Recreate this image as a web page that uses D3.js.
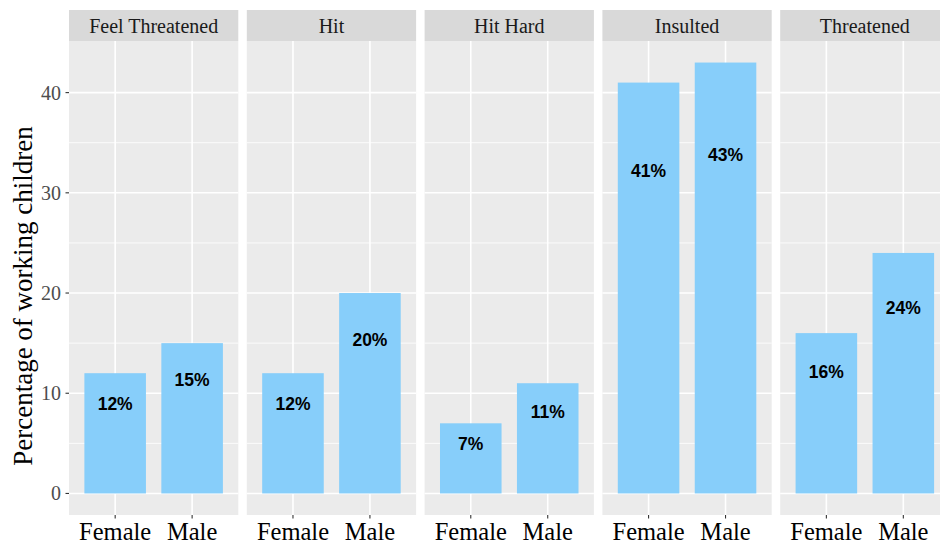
<!DOCTYPE html>
<html>
<head>
<meta charset="utf-8">
<script src="https://cdn.jsdelivr.net/npm/d3@7"></script>
<style>
html,body{margin:0;padding:0;background:#fff;overflow:hidden;}
</style>
</head>
<body>
<svg id="chart" width="940" height="545"></svg>
<script>
const facets = ["Feel Threatened", "Hit", "Hit Hard", "Insulted", "Threatened"];
const genders = ["Female", "Male"];
const femaleValues = [12, 12, 7, 41, 16];
const maleValues = [15, 20, 11, 43, 24];
const yTicks = [0, 10, 20, 30, 40];
const yMinor = [5, 15, 25, 35];
const yTitle = "Percentage of working children";

const svg = d3.select("#chart");
const panelTop = 41, panelBottom = 515, stripTop = 10;
const panelX0 = 69, panelStep = 177.8, panelGap = 8.5;

const maxV = d3.max(femaleValues.concat(maleValues));
const y = d3.scaleLinear()
  .domain([-0.05 * maxV, maxV * 1.05])
  .range([panelBottom, panelTop]);

const fx = d3.scaleBand().domain(facets)
  .range([panelX0, panelX0 + facets.length * panelStep - panelGap])
  .paddingInner(panelGap / panelStep).paddingOuter(0);

const serif = "'Liberation Serif','Times New Roman',serif";
const sans = "'Liberation Sans',Arial,sans-serif";

facets.forEach((f, i) => {
  const x0 = fx(f), w = fx.bandwidth();
  // ggplot discrete axis: expand 0.6 on each side, bar width 0.8
  const x = d3.scalePoint().domain(genders).range([x0 + w * 0.6 / 2.2, x0 + w * 1.6 / 2.2]);
  const unit = w / 2.2;
  const g = svg.append("g");
  g.append("rect").attr("x", x0).attr("y", stripTop).attr("width", w).attr("height", panelTop - stripTop).attr("fill", "#D9D9D9");
  g.append("text").attr("x", x0 + w / 2).attr("y", 33).attr("text-anchor", "middle")
    .attr("font-family", serif).attr("font-size", 20).attr("fill", "#1A1A1A").text(f);
  g.append("rect").attr("x", x0).attr("y", panelTop).attr("width", w).attr("height", panelBottom - panelTop).attr("fill", "#EBEBEB");
  yMinor.forEach(v => g.append("line").attr("x1", x0).attr("x2", x0 + w).attr("y1", y(v)).attr("y2", y(v)).attr("stroke", "#fff").attr("stroke-width", 0.8));
  yTicks.forEach(v => g.append("line").attr("x1", x0).attr("x2", x0 + w).attr("y1", y(v)).attr("y2", y(v)).attr("stroke", "#fff").attr("stroke-width", 1.6));
  genders.forEach(gd => g.append("line").attr("x1", x(gd)).attr("x2", x(gd)).attr("y1", panelTop).attr("y2", panelBottom).attr("stroke", "#fff").attr("stroke-width", 1.6));
  const vals = [femaleValues[i], maleValues[i]];
  genders.forEach((gd, j) => {
    const v = vals[j];
    g.append("rect").attr("x", x(gd) - 0.4 * unit).attr("width", 0.8 * unit)
      .attr("y", y(v)).attr("height", y(0) - y(v)).attr("fill", "#87CEFA");
    g.append("text").attr("x", x(gd)).attr("y", y(v * 0.8) + 12.5).attr("text-anchor", "middle")
      .attr("font-family", sans).attr("font-weight", "bold").attr("font-size", 17.5).attr("fill", "#000").text(v + "%");
    g.append("line").attr("x1", x(gd)).attr("x2", x(gd)).attr("y1", panelBottom).attr("y2", panelBottom + 3.5).attr("stroke", "#333").attr("stroke-width", 1.1);
    g.append("text").attr("x", x(gd)).attr("y", 540).attr("text-anchor", "middle")
      .attr("font-family", serif).attr("font-size", 24.5).attr("fill", "#000").text(gd);
  });
});

const ya = svg.append("g");
yTicks.forEach(v => {
  ya.append("line").attr("x1", 65.5).attr("x2", panelX0).attr("y1", y(v)).attr("y2", y(v)).attr("stroke", "#333").attr("stroke-width", 1.1);
  ya.append("text").attr("x", 61).attr("y", y(v)).attr("dy", "0.35em").attr("text-anchor", "end")
    .attr("font-family", serif).attr("font-size", 20).attr("fill", "#4D4D4D").text(v);
});
svg.append("text").attr("transform", `translate(32,${(panelTop + panelBottom) / 2 + 18}) rotate(-90)`)
  .attr("text-anchor", "middle").attr("font-family", serif).attr("font-size", 27).attr("fill", "#000").text(yTitle);
</script>
</body>
</html>
